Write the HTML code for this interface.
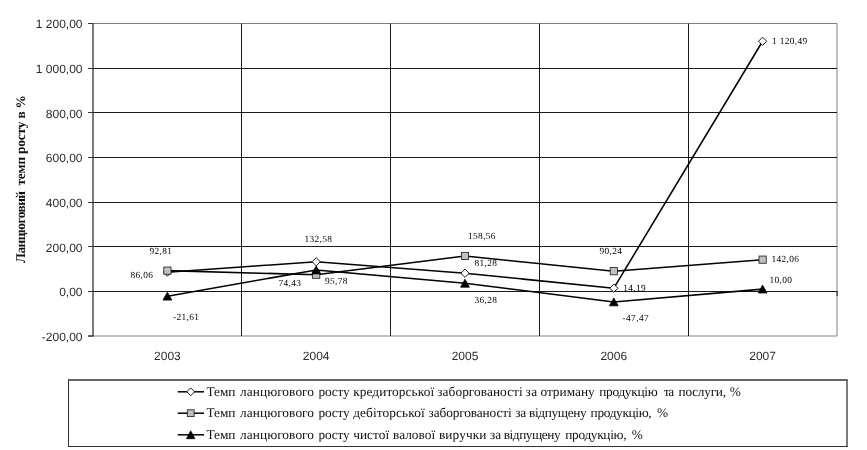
<!DOCTYPE html><html><head><meta charset="utf-8"><title>chart</title><style>html,body{margin:0;padding:0;background:#fff}svg{display:block}text{text-rendering:geometricPrecision}.ax{font-family:"Liberation Sans",sans-serif;font-size:12px;fill:#2a2a2a}.dl{font-family:"Liberation Serif",serif;font-size:9.33px;letter-spacing:0.38px;fill:#000}.lg{font-family:"Liberation Serif",serif;font-size:13.33px;fill:#111}.yt{font-family:"Liberation Serif",serif;font-size:13.33px;font-weight:bold;fill:#111}</style></head><body>
<svg width="867" height="450" viewBox="0 0 867 450">
<rect width="867" height="450" fill="#fff"/>
<g opacity="0.999">
<polyline points="93.0,23.5 837.0,23.5 837.0,336.0 93.0,336.0" fill="none" stroke="#808080" stroke-width="1"/>
<line x1="93.0" y1="68.5" x2="837.0" y2="68.5" stroke="#1a1a1a" stroke-width="1"/>
<line x1="93.0" y1="112.5" x2="837.0" y2="112.5" stroke="#1a1a1a" stroke-width="1"/>
<line x1="93.0" y1="157.5" x2="837.0" y2="157.5" stroke="#1a1a1a" stroke-width="1"/>
<line x1="93.0" y1="202.5" x2="837.0" y2="202.5" stroke="#1a1a1a" stroke-width="1"/>
<line x1="93.0" y1="246.5" x2="837.0" y2="246.5" stroke="#1a1a1a" stroke-width="1"/>
<line x1="93.0" y1="291.5" x2="837.0" y2="291.5" stroke="#1a1a1a" stroke-width="1"/>
<line x1="241.5" y1="23.5" x2="241.5" y2="336.0" stroke="#1a1a1a" stroke-width="1"/>
<line x1="390.5" y1="23.5" x2="390.5" y2="336.0" stroke="#1a1a1a" stroke-width="1"/>
<line x1="539.5" y1="23.5" x2="539.5" y2="336.0" stroke="#1a1a1a" stroke-width="1"/>
<line x1="688.5" y1="23.5" x2="688.5" y2="336.0" stroke="#1a1a1a" stroke-width="1"/>
<line x1="93.0" y1="23.0" x2="93.0" y2="336.5" stroke="#333" stroke-width="1.3"/>
<line x1="88.0" y1="23.5" x2="93.0" y2="23.5" stroke="#333" stroke-width="1"/>
<text class="ax" x="82.5" y="28.30" text-anchor="end">1 200,00</text>
<line x1="88.0" y1="68.5" x2="93.0" y2="68.5" stroke="#333" stroke-width="1"/>
<text class="ax" x="82.5" y="72.94" text-anchor="end">1 000,00</text>
<line x1="88.0" y1="112.5" x2="93.0" y2="112.5" stroke="#333" stroke-width="1"/>
<text class="ax" x="82.5" y="117.59" text-anchor="end">800,00</text>
<line x1="88.0" y1="157.5" x2="93.0" y2="157.5" stroke="#333" stroke-width="1"/>
<text class="ax" x="82.5" y="162.23" text-anchor="end">600,00</text>
<line x1="88.0" y1="202.5" x2="93.0" y2="202.5" stroke="#333" stroke-width="1"/>
<text class="ax" x="82.5" y="206.87" text-anchor="end">400,00</text>
<line x1="88.0" y1="246.5" x2="93.0" y2="246.5" stroke="#333" stroke-width="1"/>
<text class="ax" x="82.5" y="251.51" text-anchor="end">200,00</text>
<line x1="88.0" y1="291.5" x2="93.0" y2="291.5" stroke="#333" stroke-width="1"/>
<text class="ax" x="82.5" y="296.16" text-anchor="end">0,00</text>
<line x1="88.0" y1="336.0" x2="93.0" y2="336.0" stroke="#333" stroke-width="1.5"/>
<text class="ax" x="82.5" y="340.80" text-anchor="end">-200,00</text>
<line x1="837.2" y1="291.0" x2="837.2" y2="296.0" stroke="#333" stroke-width="1.2"/>
<text class="ax" x="167.40" y="359.8" text-anchor="middle">2003</text>
<text class="ax" x="316.20" y="359.8" text-anchor="middle">2004</text>
<text class="ax" x="465.00" y="359.8" text-anchor="middle">2005</text>
<text class="ax" x="613.80" y="359.8" text-anchor="middle">2006</text>
<text class="ax" x="762.60" y="359.8" text-anchor="middle">2007</text>
<polyline points="167.40,272.15 316.20,261.76 465.00,273.21 613.80,288.19 762.60,41.25" fill="none" stroke="#000" stroke-width="1.55" stroke-linejoin="round"/>
<polygon points="163.30,272.15 167.40,268.05 171.50,272.15 167.40,276.25" fill="#fff" stroke="#000" stroke-width="0.9"/>
<polygon points="312.10,261.76 316.20,257.66 320.30,261.76 316.20,265.86" fill="#fff" stroke="#000" stroke-width="0.9"/>
<polygon points="460.90,273.21 465.00,269.11 469.10,273.21 465.00,277.31" fill="#fff" stroke="#000" stroke-width="0.9"/>
<polygon points="609.70,288.19 613.80,284.09 617.90,288.19 613.80,292.29" fill="#fff" stroke="#000" stroke-width="0.9"/>
<polygon points="758.50,41.25 762.60,37.15 766.70,41.25 762.60,45.35" fill="#fff" stroke="#000" stroke-width="0.9"/>
<polyline points="167.40,270.64 316.20,274.74 465.00,255.96 613.80,271.21 762.60,259.65" fill="none" stroke="#000" stroke-width="1.55" stroke-linejoin="round"/>
<rect x="163.80" y="267.04" width="7.2" height="7.2" fill="#c0c0c0" stroke="#222" stroke-width="0.85"/>
<rect x="312.60" y="271.14" width="7.2" height="7.2" fill="#c0c0c0" stroke="#222" stroke-width="0.85"/>
<rect x="461.40" y="252.36" width="7.2" height="7.2" fill="#c0c0c0" stroke="#222" stroke-width="0.85"/>
<rect x="610.20" y="267.61" width="7.2" height="7.2" fill="#c0c0c0" stroke="#222" stroke-width="0.85"/>
<rect x="759.00" y="256.05" width="7.2" height="7.2" fill="#c0c0c0" stroke="#222" stroke-width="0.85"/>
<polyline points="167.40,296.18 316.20,269.98 465.00,283.26 613.80,301.95 762.60,289.12" fill="none" stroke="#000" stroke-width="1.55" stroke-linejoin="round"/>
<polygon points="163.00,300.08 167.40,292.18 171.80,300.08" fill="#000" stroke="#000" stroke-width="0.8"/>
<polygon points="311.80,273.88 316.20,265.98 320.60,273.88" fill="#000" stroke="#000" stroke-width="0.8"/>
<polygon points="460.60,287.16 465.00,279.26 469.40,287.16" fill="#000" stroke="#000" stroke-width="0.8"/>
<polygon points="609.40,305.85 613.80,297.95 618.20,305.85" fill="#000" stroke="#000" stroke-width="0.8"/>
<polygon points="758.20,293.02 762.60,285.12 767.00,293.02" fill="#000" stroke="#000" stroke-width="0.8"/>
<text class="dl" x="149.4" y="253.5">92,81</text>
<text class="dl" x="130.4" y="278.4">86,06</text>
<text class="dl" x="172.9" y="319.8">-21,61</text>
<text class="dl" x="304.4" y="242.4">132,58</text>
<text class="dl" x="278.4" y="285.9">74,43</text>
<text class="dl" x="325.0" y="283.8">95,78</text>
<text class="dl" x="467.9" y="238.8">158,56</text>
<text class="dl" x="474.4" y="266.4">81,28</text>
<text class="dl" x="474.4" y="303.3">36,28</text>
<text class="dl" x="599.4" y="253.5">90,24</text>
<text class="dl" x="623.2" y="290.5">14,19</text>
<text class="dl" x="622.6" y="321">-47,47</text>
<text class="dl" x="771.9" y="43.9">1 120,49</text>
<text class="dl" x="771.4" y="261.6">142,06</text>
<text class="dl" x="769.4" y="282.6">10,00</text>
<text class="yt" transform="translate(25.4,263) rotate(-90)" xml:space="preserve"><tspan x="0.0" textLength="72.0" lengthAdjust="spacing">Ланцюговий</tspan> <tspan x="77.4" textLength="28.8" lengthAdjust="spacing">темп</tspan> <tspan x="109.0" textLength="32.4" lengthAdjust="spacing">росту</tspan> <tspan x="144.6" textLength="5.7" lengthAdjust="spacing">в</tspan> <tspan x="154.6" textLength="12.4" lengthAdjust="spacing">%</tspan></text>
<line x1="68" y1="380" x2="847.6" y2="380" stroke="#333" stroke-width="1.3"/>
<line x1="847" y1="380" x2="847" y2="447" stroke="#333" stroke-width="1.3"/>
<line x1="68.5" y1="379.5" x2="68.5" y2="447" stroke="#333" stroke-width="1"/>
<line x1="68" y1="446.5" x2="847.6" y2="446.5" stroke="#333" stroke-width="1"/>
<line x1="177.7" y1="391.8" x2="204" y2="391.8" stroke="#000" stroke-width="1.5"/>
<polygon points="186.80,391.80 190.70,387.90 194.60,391.80 190.70,395.70" fill="#fff" stroke="#000" stroke-width="0.9"/>
<text class="lg" y="396.0" xml:space="preserve"><tspan x="206.5" textLength="28.9" lengthAdjust="spacing">Темп</tspan> <tspan x="240.0" textLength="74.0" lengthAdjust="spacing">ланцюгового</tspan> <tspan x="318.6" textLength="31.0" lengthAdjust="spacing">росту</tspan> <tspan x="353.2" textLength="80.9" lengthAdjust="spacing">кредиторської</tspan> <tspan x="437.3" textLength="85.4" lengthAdjust="spacing">заборгованості</tspan> <tspan x="525.5" textLength="11.7" lengthAdjust="spacing">за</tspan> <tspan x="540.4" textLength="54.3" lengthAdjust="spacing">отриману</tspan> <tspan x="599.2" textLength="58.4" lengthAdjust="spacing">продукцію</tspan> <tspan x="663.8" textLength="10.4" lengthAdjust="spacing">та</tspan> <tspan x="678.5" textLength="47.6" lengthAdjust="spacing">послуги,</tspan> <tspan x="729.7" textLength="10.3" lengthAdjust="spacing">%</tspan></text>
<line x1="177.7" y1="413.2" x2="204" y2="413.2" stroke="#000" stroke-width="1.5"/>
<rect x="187.30" y="409.80" width="6.8" height="6.8" fill="#c0c0c0" stroke="#222" stroke-width="0.85"/>
<text class="lg" y="417.4" xml:space="preserve"><tspan x="206.5" textLength="28.9" lengthAdjust="spacing">Темп</tspan> <tspan x="240.0" textLength="74.0" lengthAdjust="spacing">ланцюгового</tspan> <tspan x="318.6" textLength="31.0" lengthAdjust="spacing">росту</tspan> <tspan x="353.2" textLength="71.5" lengthAdjust="spacing">дебіторської</tspan> <tspan x="428.6" textLength="83.0" lengthAdjust="spacing">заборгованості</tspan> <tspan x="515.2" textLength="10.9" lengthAdjust="spacing">за</tspan> <tspan x="529.0" textLength="57.7" lengthAdjust="spacing">відпущену</tspan> <tspan x="590.6" textLength="61.1" lengthAdjust="spacing">продукцію,</tspan> <tspan x="657.0" textLength="11.0" lengthAdjust="spacing">%</tspan></text>
<line x1="177.7" y1="434.8" x2="204" y2="434.8" stroke="#000" stroke-width="1.5"/>
<polygon points="186.50,438.70 190.70,430.80 194.90,438.70" fill="#000" stroke="#000" stroke-width="0.8"/>
<text class="lg" y="439.0" xml:space="preserve"><tspan x="206.5" textLength="28.9" lengthAdjust="spacing">Темп</tspan> <tspan x="240.0" textLength="74.0" lengthAdjust="spacing">ланцюгового</tspan> <tspan x="318.6" textLength="31.0" lengthAdjust="spacing">росту</tspan> <tspan x="353.2" textLength="35.9" lengthAdjust="spacing">чистої</tspan> <tspan x="393.0" textLength="42.1" lengthAdjust="spacing">валової</tspan> <tspan x="439.0" textLength="47.4" lengthAdjust="spacing">виручки</tspan> <tspan x="489.9" textLength="11.3" lengthAdjust="spacing">за</tspan> <tspan x="503.7" textLength="57.0" lengthAdjust="spacing">відпущену</tspan> <tspan x="565.3" textLength="61.2" lengthAdjust="spacing">продукцію,</tspan> <tspan x="631.8" textLength="11.0" lengthAdjust="spacing">%</tspan></text>
</g></svg></body></html>
